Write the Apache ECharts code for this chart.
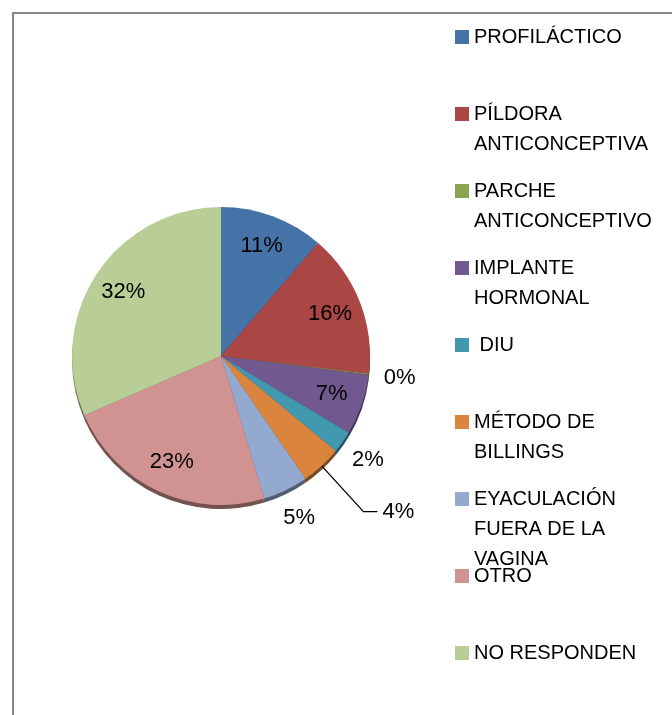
<!DOCTYPE html>
<html>
<head>
<meta charset="utf-8">
<script src="https://cdn.jsdelivr.net/npm/echarts@6/dist/echarts.min.js"></script>
<style>
  html, body { margin: 0; padding: 0; background: #fff; }
  #chart { width: 672px; height: 715px; }
</style>
</head>
<body>
<div id="chart"></div>
<script>
// metodos anticonceptivos - porcentaje de respuestas
const categories = ['PROFILÁCTICO', 'PÍLDORA ANTICONCEPTIVA', 'PARCHE ANTICONCEPTIVO', 'IMPLANTE HORMONAL', 'DIU',
  'MÉTODO DE BILLINGS', 'EYACULACIÓN FUERA DE LA VAGINA', 'OTRO', 'NO RESPONDEN'];
const legendLines = [['PROFILÁCTICO'], ['PÍLDORA', 'ANTICONCEPTIVA'], ['PARCHE', 'ANTICONCEPTIVO'], ['IMPLANTE', 'HORMONAL'],
  [' DIU'], ['MÉTODO DE', 'BILLINGS'], ['EYACULACIÓN', 'FUERA DE LA', 'VAGINA'], ['OTRO'], ['NO RESPONDEN']];
const shares = [11.3, 15.6, 0.1, 6.6, 2.4, 4.4, 4.9, 23.2, 31.5];
const colors = ['#4572A7', '#AA4643', '#89A54E', '#71588F', '#4198AF', '#DB843D', '#93A9CF', '#D19392', '#B9CD96'];

const labelFont = 'Liberation Sans';
const legendFont = "'Liberation Sans', Arial, sans-serif";
const center = [221, 356];
const R = 149;

// which slice shows its label where
const insideIdx = [0, 1, 3, 7, 8];
const ringIdx = [2, 4, 6];
const lineIdx = [5];

function darken(hex, f) {
  const n = parseInt(hex.slice(1), 16);
  const r = Math.round(((n >> 16) & 255) * f);
  const g = Math.round(((n >> 8) & 255) * f);
  const b = Math.round((n & 255) * f);
  return `rgb(${r},${g},${b})`;
}

const pct = (p) => Math.round(p.value) + '%';
const baseLabel = {
  color: '#000',
  fontFamily: labelFont,
  fontSize: 22,
  textBorderWidth: 0,
  formatter: pct,
};

const mainData = categories.map((name, i) => {
  const item = { name, value: shares[i], itemStyle: { color: colors[i] } };
  if (lineIdx.includes(i)) {
    item.label = { show: true, position: 'outside', distanceToLabelLine: 5 };
    item.labelLine = { show: true, length: 62, length2: 14, lineStyle: { color: '#000', width: 1.3 } };
  } else {
    item.label = { show: false };
    item.labelLine = { show: false };
  }
  return item;
});

const rimData = categories.map((name, i) => ({ name, value: shares[i], itemStyle: { color: darken(colors[i], 0.55) } }));

const innerRingData = categories.map((name, i) => ({
  name, value: shares[i],
  label: { show: insideIdx.includes(i) },
}));

const outerRingData = categories.map((name, i) => ({
  name, value: shares[i],
  label: { show: ringIdx.includes(i) },
}));

const legends = categories.map((name, i) => {
  const lines = legendLines[i];
  const n = lines.length;
  const h = (2 * n - 1) * 30;
  const c = 37 + 77 * i;
  return {
    orient: 'vertical',
    left: 455,
    top: c - h / 2,
    padding: 0,
    itemGap: 0,
    itemWidth: 14,
    itemHeight: 14,
    icon: 'rect',
    selectedMode: false,
    data: [name],
    formatter: () => '\n'.repeat(n - 1) + lines.join('\n'),
    textStyle: { color: '#000', fontFamily: legendFont, fontSize: 20, lineHeight: 30 },
  };
});

const chart = echarts.init(document.getElementById('chart'), null, { renderer: 'canvas' });
chart.setOption({
  backgroundColor: '#fff',
  animation: false,
  legend: legends,
  graphic: [{
    type: 'rect',
    shape: { x: 13, y: 13, width: 720, height: 760 },
    style: { fill: 'none', stroke: '#878787', lineWidth: 2 },
    silent: true,
  }],
  series: [
    {
      name: 'main',
      type: 'pie',
      z: 3,
      center: center,
      radius: R,
      startAngle: 90,
      clockwise: true,
      avoidLabelOverlap: false,
      silent: true,
      label: baseLabel,
      itemStyle: { borderWidth: 0 },
      data: mainData,
    },
    {
      name: 'rim',
      type: 'pie',
      z: 2,
      center: [center[0], center[1] + 4],
      radius: R,
      startAngle: 90,
      silent: true,
      label: { show: false },
      labelLine: { show: false },
      itemStyle: { borderWidth: 0 },
      data: rimData,
    },
    {
      name: 'inner-labels',
      type: 'pie',
      z: 4,
      center: center,
      radius: [78, 150],
      startAngle: 90,
      silent: true,
      avoidLabelOverlap: false,
      itemStyle: { color: 'rgba(0,0,0,0)', borderWidth: 0 },
      label: Object.assign({ position: 'inside' }, baseLabel),
      labelLine: { show: false },
      data: innerRingData,
    },
    {
      name: 'outer-labels',
      type: 'pie',
      z: 4,
      center: center,
      radius: [150, 204],
      startAngle: 90,
      silent: true,
      avoidLabelOverlap: false,
      itemStyle: { color: 'rgba(0,0,0,0)', borderWidth: 0 },
      label: Object.assign({ position: 'inside' }, baseLabel),
      labelLine: { show: false },
      data: outerRingData,
    },
  ],
});
</script>
</body>
</html>
